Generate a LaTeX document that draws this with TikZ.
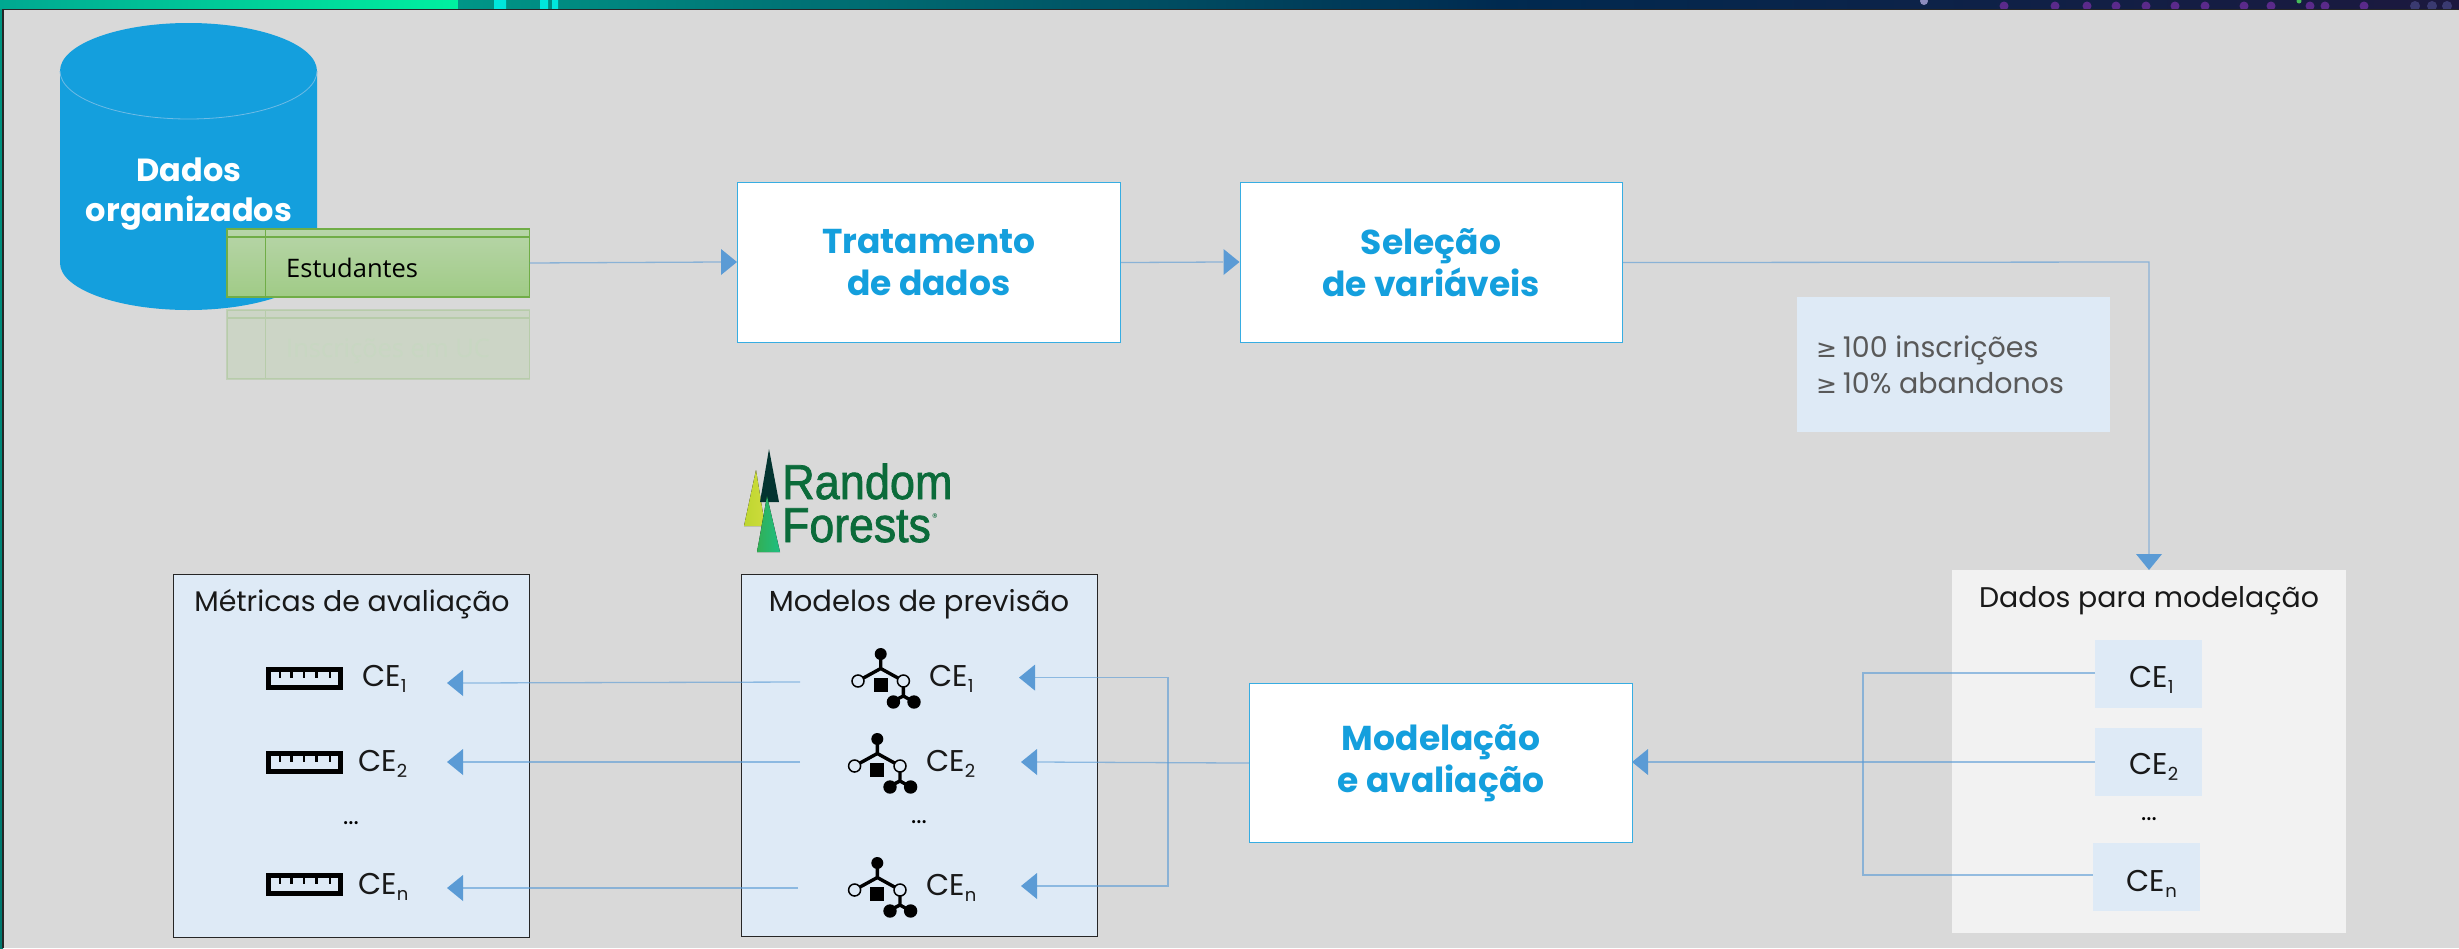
\documentclass[tikz,border=0pt]{standalone}
\usepackage{fontspec}
\setmainfont{Poppins}
\newfontfamily\dejavu{DejaVu Sans}
\newfontfamily\opensans{Open Sans}
\newfontfamily\arialx[FakeBold=1.6]{Liberation Sans}
\usetikzlibrary{arrows.meta}
\definecolor{pagegrey}{HTML}{D9D9D9}
\definecolor{wire}{HTML}{5B9BD5}
\definecolor{palebox}{HTML}{DEEAF6}
\definecolor{dbblue}{HTML}{149FDD}
\definecolor{titleblue}{HTML}{149FDD}
\definecolor{greentop}{HTML}{B7D5A8}
\definecolor{greenbot}{HTML}{A0CB86}
\definecolor{greenline}{HTML}{70AD47}
\definecolor{rfgreen}{HTML}{0B6B3A}
\definecolor{ghosttext}{HTML}{C8D7C2}
\definecolor{dotpurple}{HTML}{5A2A8A}
\definecolor{dotslate}{HTML}{3A3A70}
\tikzset{
  x=1pt,y=-1pt,
  wireline/.style={draw=wire,draw opacity=.62,line width=1.3pt},
  headtip/.style={fill=wire,draw=none},
  stepbox/.style={draw=titleblue!85,line width=1.1pt,fill=white},
  steptext/.style={text=titleblue,font=\fontsize{34.5}{42.5}\selectfont\bfseries,align=center},
  titletext/.style={text=black!90,font=\fontsize{28.4}{34}\selectfont},
  celabel/.style={text=black!90,font=\fontsize{30}{34}\selectfont,anchor=base west,inner sep=0pt},
  panel/.style={draw=black!85,line width=1pt,fill=palebox},
  flatbox/.style={fill=palebox,draw=none},
  dotstext/.style={text=black,font=\fontsize{25}{30}\selectfont,anchor=base,inner sep=0pt},
}
\newcommand{\lefthead}[2]{\fill[headtip] (#1,#2) -- (#1+16,#2-13) -- (#1+16,#2+13) -- cycle;}
\newcommand{\treeicon}[2]{%
  \begin{scope}[shift={(#1,#2)}]
    \draw[line width=3.4pt] (0,0) -- (0,14.5) (-22.7,27) -- (0,14.5) -- (22.7,27);
    \draw[line width=3.4pt] (22.7,27) -- (22.7,42) (10.5,48) -- (22.7,42) -- (33.3,48);
    \fill (0,0) circle[radius=6];
    \filldraw[fill=palebox,draw=black,line width=1.5pt] (-22.7,27) circle[radius=6];
    \filldraw[fill=palebox,draw=black,line width=1.5pt] (22.7,27) circle[radius=6];
    \fill (-7,24.3) rectangle (7,37.7);
    \fill (12.7,48) circle[radius=6.7];
    \fill (33.3,48) circle[radius=6.7];
  \end{scope}}
\newcommand{\rulericon}[2]{%
  \begin{scope}[shift={(#1,#2)}]
    \draw[line width=4.6pt] (2.3,2.3) rectangle (74.6,20.4);
    \foreach \tx in {14,25.7,38,50.7,64}{\draw[line width=2.6pt] (\tx,3) -- (\tx,11);}
  \end{scope}}
\newcommand{\celab}[3]{\node[celabel] at (#1,#2) {CE\raisebox{-.22em}{\fontsize{18}{18}\selectfont #3}};}
\begin{document}
\begin{tikzpicture}
\useasboundingbox (0,0) rectangle (2459,948);
% frame and strip
\fill[pagegrey] (0,0) rectangle (2459,948);
\fill[left color={rgb,255:red,0;green,168;blue,145},right color={rgb,255:red,0;green,240;blue,160}] (0,0) rectangle (458,9);
\fill[left color={rgb,255:red,0;green,150;blue,135},right color={rgb,255:red,0;green,42;blue,80}] (458,0) rectangle (1500,9);
\fill[left color={rgb,255:red,0;green,42;blue,80},right color={rgb,255:red,28;green,24;blue,62}] (1500,0) rectangle (2459,9);
\fill[color={rgb,255:red,0;green,230;blue,220}] (494,0) rectangle (506,9) (540,0) rectangle (548,9) (552,0) rectangle (558,9);
\begin{scope}
\clip (1880,0) rectangle (2459,9);
\foreach \sx in {2004,2055,2087,2116,2146,2175,2205,2244,2271,2310,2325,2364}{
  \fill[dotpurple] (\sx,6) circle[radius=4.5];}
\foreach \sx in {2415,2432,2447}{\fill[dotslate] (\sx,6) circle[radius=5];}
\fill[color={rgb,255:red,140;green,140;blue,190}] (1924,1) circle[radius=4];
\fill[color={rgb,255:red,70;green,190;blue,90}] (2299,1) circle[radius=2.5];
\end{scope}
\fill[top color={rgb,255:red,0;green,150;blue,130},bottom color={rgb,255:red,0;green,120;blue,110}] (0,9) rectangle (3,948);
\draw[black!85,line width=1.4pt] (3,948) -- (3,9.5) -- (2459,9.5);
% database
\fill[dbblue] (60,71) -- (60,263) arc[start angle=180,end angle=0,x radius=128.5,y radius=47] -- (317,71) arc[start angle=0,end angle=-180,x radius=128.5,y radius=48] -- cycle;
\draw[wire!40!dbblue!70!white,line width=.8pt] (60,71) arc[start angle=180,end angle=0,x radius=128.5,y radius=48];
\node[text=white,font=\fontsize{32}{40}\selectfont\bfseries,align=center,anchor=base,inner sep=0pt] (db) at (189,221) {Dados\\organizados};
% tables
\node[draw=none,minimum width=302.5pt,minimum height=68pt,inner sep=0pt,top color=greentop,bottom color=greenbot,anchor=north west] (studs) at (227,229) {};
\draw[greenline,line width=1.2pt] (227,229) rectangle (529.5,297) (227,237) -- (529.5,237) (265.6,229) -- (265.6,297);
\node[font=\opensans\fontsize{25.5}{28}\selectfont,text=black,anchor=base west,inner sep=0pt] at (286,277) {Estudantes};
\begin{scope}[opacity=.22]
\fill[greenbot] (227,310) rectangle (529.5,379);
\draw[greenline,line width=1.2pt] (227,310) rectangle (529.5,379) (227,318) -- (529.5,318) (265.6,310) -- (265.6,379);
\end{scope}
\node[font=\opensans\fontsize{25.5}{28}\selectfont,text=ghosttext,anchor=base west,inner sep=0pt] (ghost) at (286,357) {Inscrições em UC};
% step boxes
\node[stepbox,steptext,minimum width=382.5pt,minimum height=160pt,inner sep=0pt,anchor=north west] (trat) at (737,182) {Tratamento\\de dados};
\node[stepbox,steptext,minimum width=382pt,minimum height=160pt,inner sep=0pt,anchor=north west] (sel) at (1239.5,182) {Seleção\\de variáveis};
\node[stepbox,steptext,minimum width=383pt,minimum height=159pt,inner sep=0pt,anchor=north west] (mod) at (1249,683) {Modelação\\e avaliação};
% note
\fill[palebox] (1797,297) rectangle (2110,432);
\node[anchor=base west,inner sep=0pt,text=black!65,font=\fontsize{28.5}{34}\selectfont] (n1) at (1816,357) {{\dejavu\fontsize{25}{30}\selectfont ≥}\hspace{-2pt} 100 inscrições};
\node[anchor=base west,inner sep=0pt,text=black!65,font=\fontsize{28.5}{34}\selectfont] (n2) at (1816,393) {{\dejavu\fontsize{25}{30}\selectfont ≥}\hspace{-2pt} 10\% abandonos};
% right panel
\fill[black!5] (1952,570) rectangle (2346,933);
\node[titletext,anchor=base,inner sep=0pt] (dtitle) at (2149,607) {Dados para modelação};
\node[flatbox,minimum width=107pt,minimum height=68pt,inner sep=0pt,anchor=north west] (d1) at (2095,640) {};
\node[flatbox,minimum width=107pt,minimum height=68pt,inner sep=0pt,anchor=north west] (d2) at (2095,728) {};
\node[flatbox,minimum width=107pt,minimum height=68pt,inner sep=0pt,anchor=north west] (dn) at (2093,843) {};
\celab{2129}{687}{1}
\celab{2129}{774}{2}
\celab{2126.5}{891}{n}
\node[dotstext] at (2149,820) {...};
% middle panel
\node[panel,minimum width=356pt,minimum height=362pt,inner sep=0pt,anchor=north west] (mp) at (741,574) {};
\node[titletext,anchor=base,inner sep=0pt,font=\fontsize{29}{34}\selectfont] (mtitle) at (919,611) {Modelos de previsão};
\treeicon{880.7}{654}
\treeicon{877.3}{739}
\treeicon{877.3}{863}
\celab{929}{686}{1}
\celab{926}{771}{2}
\celab{926}{895}{n}
\node[dotstext] at (919,823) {...};
% left panel
\node[panel,minimum width=356pt,minimum height=363pt,inner sep=0pt,anchor=north west] (lp) at (173,574) {};
\node[titletext,anchor=base,inner sep=0pt] (ltitle) at (352,611) {Métricas de avaliação};
\rulericon{266}{667}
\rulericon{266}{751}
\rulericon{266}{873}
\celab{362}{686}{1}
\celab{358}{771}{2}
\celab{358}{894}{n}
\node[dotstext] at (351,824) {...};
% logo
\fill[left color={rgb,255:red,190;green,214;blue,48},right color={rgb,255:red,205;green,220;blue,60}] (756,470) -- (744,526) -- (765,526) -- cycle;
\fill[color={rgb,255:red,3;green,52;blue,48}] (769,449) -- (760,502) -- (779,502) -- cycle;
\fill[left color={rgb,255:red,50;green,175;blue,85},right color={rgb,255:red,30;green,190;blue,130}] (767,496) -- (757,552) -- (780,552) -- cycle;
\node[text=rfgreen,font=\arialx\fontsize{49}{49}\selectfont,anchor=base west,inner sep=0pt,xscale=.92] (rf1) at (782,499) {Random};
\node[text=rfgreen,font=\arialx\fontsize{49}{49}\selectfont,anchor=base west,inner sep=0pt,xscale=.91] (rf2) at (782,542) {Forests};
\node[text=rfgreen,font=\fontsize{11}{11}\selectfont,anchor=base west,inner sep=0pt] (rf3) at (932,521) {®};
% connectors
\draw[wireline] (529.5,263) -- (721,262);
\fill[headtip] (737,262) -- (721,249) -- (721,275) -- cycle;
\draw[wireline] (trat.east) -- (1223,262);
\fill[headtip] (1239.5,262) -- (1223.5,249) -- (1223.5,275) -- cycle;
\draw[wireline] (sel.east) -- (2149,262) -- (2149,554);
\fill[headtip] (2149,570) -- (2136,554) -- (2162,554) -- cycle;
\draw[wireline] (d1.west |- 0,673) -- (1863,673) -- (1863,875) -- (dn.west |- 0,875);
\draw[wireline] (d2.west |- 0,762) -- (1648,762);
\lefthead{1632}{762}
\draw[wireline] (mod.west) -- (1037,762);
\draw[wireline] (1168,762) -- (1168,677.6) -- (1035,677.6);
\draw[wireline] (1168,762) -- (1168,886) -- (1037,886);
\lefthead{1019}{677.6}
\lefthead{1021}{762}
\lefthead{1021}{886}
\draw[wireline] (800,682) -- (463,683);
\draw[wireline] (800,762) -- (463,762);
\draw[wireline] (798,888) -- (463,888);
\lefthead{447}{683}
\lefthead{447}{762}
\lefthead{447}{888}
\end{tikzpicture}
\end{document}
